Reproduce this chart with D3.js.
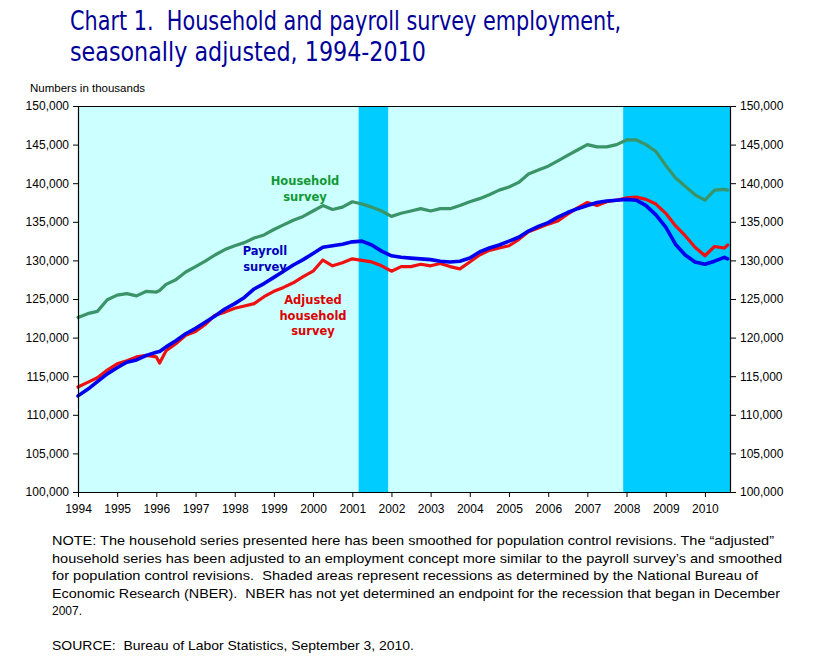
<!DOCTYPE html>
<html>
<head>
<meta charset="utf-8">
<script src="https://cdn.jsdelivr.net/npm/d3@7"></script>
<style>
  html, body { margin: 0; padding: 0; background: #fff; }
  svg { display: block; }
  svg text { white-space: pre; }
</style>
</head>
<body>
<svg id="chart" width="824" height="664"></svg>
<script>
// ---------------- DATA ----------------
const dates = [
  "1994-01","1994-04","1994-07","1994-10",
  "1995-01","1995-04","1995-07","1995-10",
  "1996-01","1996-02","1996-04","1996-07","1996-10",
  "1997-01","1997-04","1997-07","1997-10",
  "1998-01","1998-04","1998-07","1998-10",
  "1999-01","1999-04","1999-07","1999-10",
  "2000-01","2000-04","2000-07","2000-10",
  "2001-01","2001-04","2001-07","2001-10",
  "2002-01","2002-04","2002-07","2002-10",
  "2003-01","2003-04","2003-07","2003-10",
  "2004-01","2004-04","2004-07","2004-10",
  "2005-01","2005-04","2005-07","2005-10",
  "2006-01","2006-04","2006-07","2006-10",
  "2007-01","2007-04","2007-07","2007-10",
  "2008-01","2008-04","2008-07","2008-10",
  "2009-01","2009-04","2009-07","2009-10",
  "2010-01","2010-04","2010-07","2010-08"
];
const household = [
  122600,123100,123400,124900,
  125500,125700,125400,126000,
  125900,126100,126900,127500,128500,
  129200,129900,130700,131400,
  131900,132300,132900,133300,
  134000,134600,135200,135700,
  136400,137100,136600,136900,
  137600,137300,136900,136400,
  135700,136100,136400,136700,
  136400,136700,136700,137100,
  137600,138000,138500,139100,
  139500,140100,141200,141700,
  142200,142900,143600,144300,
  145000,144700,144700,145000,
  145600,145600,145000,144100,
  142300,140700,139600,138500,
  137800,139100,139200,139100
];
const payroll = [
  112450,113300,114300,115300,
  116100,116800,117100,117700,
  118100,118200,118800,119600,120500,
  121200,122000,122800,123700,
  124400,125200,126300,127000,
  127800,128600,129400,130100,
  130900,131700,131900,132100,
  132400,132500,132000,131200,
  130600,130400,130300,130200,
  130100,129900,129800,129900,
  130300,131100,131600,132000,
  132500,133000,133800,134400,
  134900,135600,136200,136700,
  137100,137500,137700,137800,
  137900,137800,137100,135900,
  134300,132100,130700,129800,
  129500,129900,130400,130200
];
const adjusted = [
  113600,114200,114800,115800,
  116600,117000,117500,117700,
  117500,116700,118300,119200,120300,
  120800,121700,122900,123300,
  123800,124100,124400,125300,
  126000,126500,127100,127900,
  128600,130050,129300,129700,
  130200,130000,129800,129300,
  128600,129200,129200,129500,
  129300,129600,129200,128900,
  129800,130700,131300,131600,
  131900,132700,133700,134200,
  134700,135100,136000,136800,
  137500,137100,137600,137800,
  138100,138200,137900,137300,
  136100,134500,133200,131700,
  130600,131800,131600,132000
];
const recessions = [["2001-03","2001-12"],["2007-12","2010-09"]];
const yearTicks = ["1994","1995","1996","1997","1998","1999","2000","2001","2002","2003","2004","2005","2006","2007","2008","2009","2010"];
const valueTicks = [100000,105000,110000,115000,120000,125000,130000,135000,140000,145000,150000];
const titleLines = ["Chart 1.  Household and payroll survey employment,", "seasonally adjusted, 1994-2010"];
const noteLines = [
  "NOTE: The household series presented here has been smoothed for population control revisions. The \u201cadjusted\u201d",
  "household series has been adjusted to an employment concept more similar to the payroll survey\u2019s and smoothed",
  "for population control revisions.  Shaded areas represent recessions as determined by the National Bureau of",
  "Economic Research (NBER).  NBER has not yet determined an endpoint for the recession that began in December",
  "2007."
];
const sourceLine = "SOURCE:  Bureau of Labor Statistics, September 3, 2010.";

// ---------------- LAYOUT ----------------
const svg = d3.select("#chart");
const L = 78, R = 731, T = 106, B = 492;
const parseM = d3.timeParse("%Y-%m");
const parseY = d3.timeParse("%Y");

const x = d3.scaleTime()
  .domain([parseM("1994-01"), parseM("2010-09")])
  .range([L, R]);
const y = d3.scaleLinear().domain([100000, 150000]).range([B, T]);

// title
const titleG = svg.append("g")
  .attr("font-family", "'DejaVu Sans', Verdana, sans-serif")
  .attr("font-size", 26)
  .attr("fill", "#000099");
titleG.append("text").attr("x", 70).attr("y", 29.5).text(titleLines[0])
  .attr("textLength", 551).attr("lengthAdjust", "spacingAndGlyphs");
titleG.append("text").attr("x", 70).attr("y", 61).text(titleLines[1])
  .attr("textLength", 356).attr("lengthAdjust", "spacingAndGlyphs");

svg.append("text")
  .attr("x", 30).attr("y", 92)
  .attr("font-family", "'Liberation Sans', Arial, sans-serif")
  .attr("font-size", 11.5)
  .attr("fill", "#000")
  .text("Numbers in thousands");

// plot background
svg.append("rect")
  .attr("x", L).attr("y", T).attr("width", R - L).attr("height", B - T)
  .attr("fill", "#CCFFFF");

svg.append("g").selectAll("rect")
  .data(recessions)
  .join("rect")
  .attr("x", d => x(parseM(d[0])))
  .attr("width", d => Math.min(R, x(parseM(d[1]))) - x(parseM(d[0])))
  .attr("y", T).attr("height", B - T)
  .attr("fill", "#00CCFF");

// lines
const pts = s => dates.map((d, i) => [parseM(d), s[i]]);
const line = d3.line().x(d => x(d[0])).y(d => y(d[1]));
const series = [
  {v: household, c: "#3A9468", w: 3.2},
  {v: adjusted, c: "#EE1111", w: 3.2},
  {v: payroll, c: "#0000EE", w: 3.6}
];
svg.append("g").selectAll("path")
  .data(series)
  .join("path")
  .attr("d", s => line(pts(s.v)))
  .attr("fill", "none")
  .attr("stroke", s => s.c)
  .attr("stroke-width", s => s.w)
  .attr("stroke-linejoin", "round")
  .attr("stroke-linecap", "round");

// frame
svg.append("line").attr("x1", L).attr("x2", R).attr("y1", T + 0.5).attr("y2", T + 0.5)
  .attr("stroke", "#000").attr("stroke-width", 1.2);

const tickFont = "'Liberation Sans', Arial, sans-serif";
const yl = svg.append("g").attr("transform", `translate(${L},0)`)
  .call(d3.axisLeft(y).tickValues(valueTicks).tickFormat(d3.format(",")).tickSize(5).tickPadding(4));
const yr = svg.append("g").attr("transform", `translate(${R},0)`)
  .call(d3.axisRight(y).tickValues(valueTicks).tickFormat(d3.format(",")).tickSize(5).tickPadding(4));
const xa = svg.append("g").attr("transform", `translate(0,${B})`)
  .call(d3.axisBottom(x).tickValues(yearTicks.map(parseY)).tickFormat(d3.timeFormat("%Y")).tickSize(5).tickPadding(7));
[yl, yr, xa].forEach(g => {
  g.select(".domain").attr("stroke", "#000").attr("stroke-width", 1.2);
  g.selectAll(".tick line").attr("stroke", "#000");
  g.selectAll(".tick text").attr("font-family", tickFont).attr("font-size", 12).attr("fill", "#000");
});
xa.select(".domain").attr("d", `M${L},0.5H${R}`);
yl.select(".domain").attr("d", `M0.5,${T}V${B}`);
yr.select(".domain").attr("d", `M-0.5,${T}V${B}`);

// series labels
const lblFont = "'DejaVu Sans', Verdana, sans-serif";
const labels = [
  {lines: ["Household", "survey"], x: 305, y: 185, c: "#119933"},
  {lines: ["Payroll", "survey"], x: 265, y: 255, c: "#0000BB"},
  {lines: ["Adjusted", "household", "survey"], x: 313, y: 304, c: "#DD0000"}
];
labels.forEach(l => {
  const t = svg.append("text")
    .attr("font-family", lblFont).attr("font-size", 11.5).attr("font-weight", "bold")
    .attr("fill", l.c).attr("text-anchor", "middle");
  l.lines.forEach((s, i) => t.append("tspan").attr("x", l.x).attr("y", l.y + i * 15.5).text(s));
});

// notes
const noteWidths = [722, 730, 706, 728, 30];
const noteG = svg.append("g")
  .attr("font-family", "'Liberation Sans', Arial, sans-serif")
  .attr("font-size", 13).attr("fill", "#000");
noteLines.forEach((s, i) => {
  noteG.append("text").attr("x", 52).attr("y", 545 + i * 17.5).text(s)
    .attr("textLength", noteWidths[i]).attr("lengthAdjust", "spacingAndGlyphs");
});
noteG.append("text").attr("x", 52).attr("y", 650).text(sourceLine)
  .attr("textLength", 362).attr("lengthAdjust", "spacingAndGlyphs");
</script>
</body>
</html>
